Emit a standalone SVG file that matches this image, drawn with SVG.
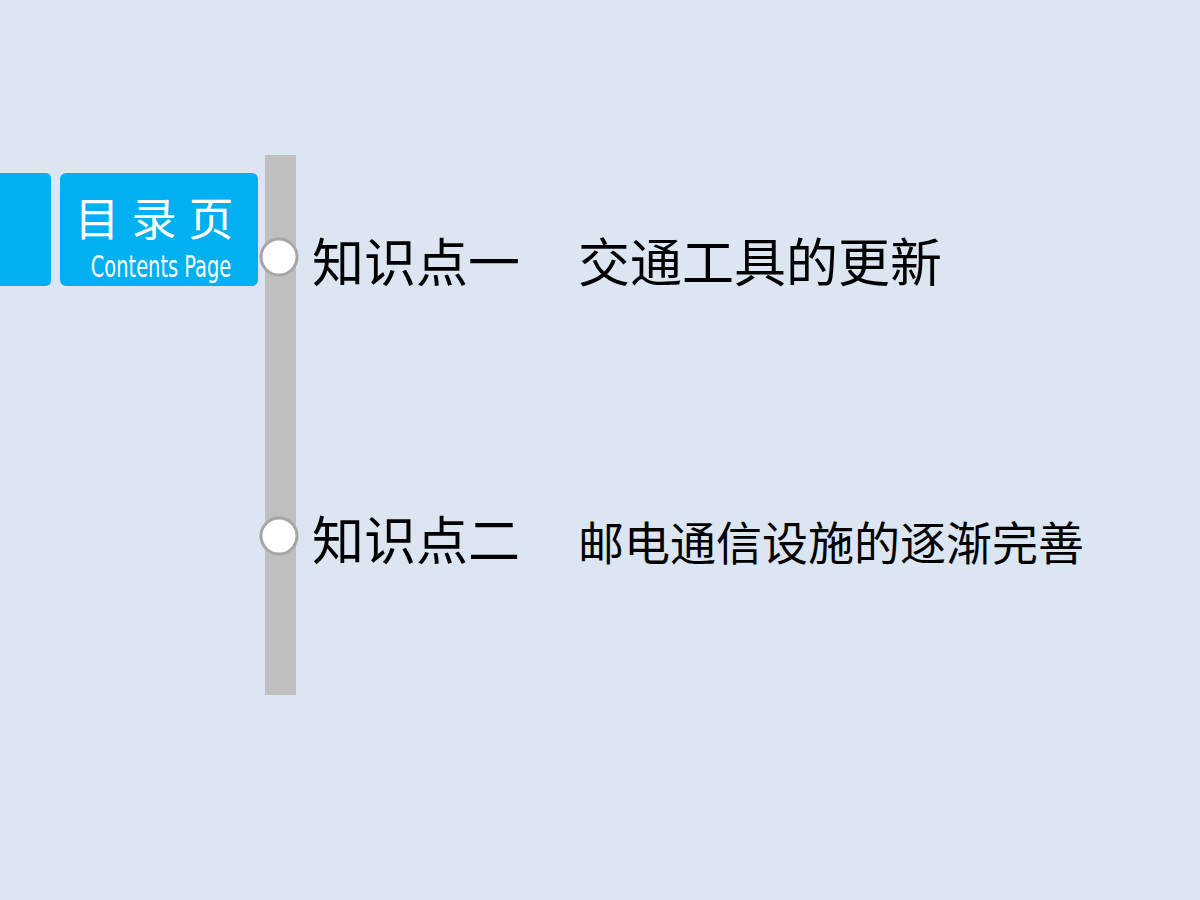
<svg xmlns="http://www.w3.org/2000/svg" width="1200" height="900" viewBox="0 0 1200 900">
<style>
.t{font-family:"Liberation Sans","Noto Sans CJK SC",sans-serif;fill:#000}
.dot{fill:#fff;stroke:#a6a6a6;stroke-width:3}
</style>
<rect width="1200" height="900" fill="#dce6f2"/>
<g id="tabs">
<rect x="-10" y="173" width="61" height="113" rx="5" fill="#00b0f0"/>
<rect x="60" y="173" width="198" height="113" rx="6" fill="#00b0f0"/>
<text x="160" y="236" text-anchor="middle" font-family="Noto Sans CJK SC,sans-serif" font-size="45" fill="#fff" letter-spacing="12">目录页</text>
<text x="161" y="277" text-anchor="middle" font-family="DejaVu Sans Condensed,Liberation Sans Narrow,sans-serif" font-size="30" fill="#fff" transform="translate(161 0) scale(0.72 1) translate(-161 0)">Contents Page</text>
</g>
<g id="connectors">
<rect x="265" y="155" width="31" height="540" fill="#bfbfbf"/>
</g>
<g id="node1">
<circle class="dot" cx="279" cy="257" r="18"/>
<text class="t" x="312" y="282" font-size="52">知识点一</text>
<text class="t" x="578" y="282" font-size="52">交通工具的更新</text>
</g>
<g id="node2">
<circle class="dot" cx="279" cy="536" r="18"/>
<text class="t" x="312" y="560" font-size="52">知识点二</text>
<text class="t" x="578" y="560" font-size="46">邮电通信设施的逐渐完善</text>
</g>
</svg>
